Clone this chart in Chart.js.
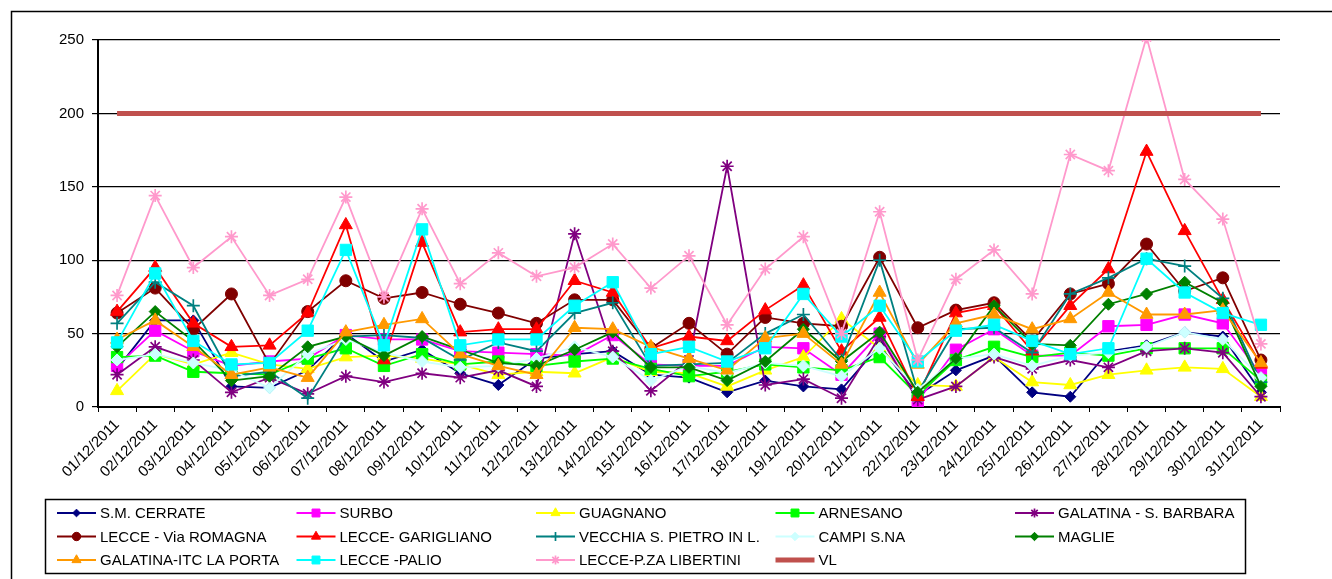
<!DOCTYPE html>
<html>
<head>
<meta charset="utf-8">
<script src="https://cdn.jsdelivr.net/npm/chart.js@4/dist/chart.umd.min.js"></script>
<style>
  html, body { margin: 0; padding: 0; background: #fff; }
  #wrap { position: relative; width: 1332px; height: 579px; }
</style>
</head>
<body>
<div id="wrap"><canvas id="chart"></canvas></div>
<script>
// PM10 daily values, December 2011

const days = [
  '01/12/2011', '02/12/2011', '03/12/2011', '04/12/2011', '05/12/2011', '06/12/2011', '07/12/2011',
  '08/12/2011', '09/12/2011', '10/12/2011', '11/12/2011', '12/12/2011', '13/12/2011', '14/12/2011',
  '15/12/2011', '16/12/2011', '17/12/2011', '18/12/2011', '19/12/2011', '20/12/2011', '21/12/2011',
  '22/12/2011', '23/12/2011', '24/12/2011', '25/12/2011', '26/12/2011', '27/12/2011', '28/12/2011',
  '29/12/2011', '30/12/2011', '31/12/2011'
];

const cerrate   = [26, 59, 59, 14, 13, 25, 50, 31, 39, 23, 15, 33, 36, 38, 22, 20, 10, 18, 14, 12, 42, 8, 25, 35, 10, 7, 38, 42, 51, 48, 10];
const surbo     = [28, 52, 38, 28, 31, 33, 49, 46, 46, 38, 37, 36, 35, 49, 29, 28, 28, 41, 40, 22, 50, 4, 39, 53, 35, 35, 55, 56, 63, 57, 22];
const guagnano  = [11, 36, 29, 37, 29, 26, 34, 35, 33, 29, 22, 24, 23, 34, 24, 23, 14, 25, 34, 60, 40, 15, 14, 34, 17, 15, 22, 25, 27, 26, 7];
const arnesano  = [34, 35, 24, 23, 22, 33, 40, 28, 36, 29, 31, 28, 31, 33, 26, 21, 24, 29, 27, 25, 34, 8, 32, 41, 34, 37, 35, 40, 40, 40, 18];
const sBarbara  = [22, 41, 32, 10, 20, 9, 21, 17, 23, 20, 25, 14, 118, 38, 11, 32, 164, 15, 19, 6, 48, 5, 14, 34, 26, 32, 27, 38, 40, 37, 7];
const romagna   = [64, 81, 53, 77, 29, 65, 86, 74, 78, 70, 64, 57, 73, 73, 40, 57, 36, 61, 57, 55, 102, 54, 66, 71, 45, 77, 84, 111, 79, 88, 32];
const garigliano = [65, 95, 57, 41, 42, 64, 124, 32, 112, 51, 53, 53, 86, 78, 40, 48, 45, 66, 83, 38, 61, 7, 64, 69, 38, 69, 94, 174, 120, 73, 29];
const vecchia   = [57, 85, 69, 21, 24, 6, 48, 49, 47, 32, 44, 38, 64, 71, 28, 29, 30, 50, 63, 32, 100, 10, 53, 54, 37, 77, 88, 101, 96, 74, 17];
const campi     = [32, 36, 30, 25, 13, 36, 46, 37, 31, 27, 28, 33, 41, 34, 18, 28, 23, 30, 28, 21, 40, 12, 33, 36, 28, 35, 37, 41, 51, 46, 20];
const maglie    = [41, 65, 45, 18, 21, 41, 48, 35, 48, 39, 30, 28, 39, 51, 27, 27, 18, 31, 53, 31, 51, 10, 33, 69, 43, 42, 70, 77, 85, 71, 14];
const laPorta   = [46, 59, 41, 22, 27, 20, 51, 56, 60, 36, 28, 22, 54, 53, 41, 33, 25, 47, 50, 29, 78, 29, 57, 63, 53, 60, 78, 63, 63, 66, 30];
const palio     = [44, 91, 45, 29, 30, 52, 107, 42, 121, 42, 46, 46, 69, 85, 36, 41, 31, 40, 77, 48, 69, 31, 52, 56, 45, 36, 40, 101, 78, 64, 56];
const libertini = [76, 144, 95, 116, 76, 87, 143, 75, 135, 84, 105, 89, 95, 111, 81, 103, 56, 94, 116, 50, 133, 32, 87, 107, 77, 172, 161, 252, 155, 128, 43];
const limitVL   = [200, 200, 200, 200, 200, 200, 200, 200, 200, 200, 200, 200, 200, 200, 200, 200, 200, 200, 200, 200, 200, 200, 200, 200, 200, 200, 200, 200, 200, 200, 200];

const FONT = '"Liberation Sans", Arial, sans-serif';

function series(label, values, color, style, radius, fill) {
  return {
    label: label,
    data: values,
    borderColor: color,
    backgroundColor: color,
    borderWidth: 1.8,
    pointStyle: style,
    pointRadius: radius,
    pointHoverRadius: radius,
    pointBackgroundColor: fill === false ? 'transparent' : color,
    pointBorderColor: color,
    pointBorderWidth: (style === 'star' || style === 'cross') ? 1.7 : 1,
    tension: 0
  };
}

const datasets = [
  series('S.M. CERRATE', cerrate, '#000080', 'rectRot', 5.5),
  series('SURBO', surbo, '#ff00ff', 'rect', 8),
  series('GUAGNANO', guagnano, '#ffff00', 'triangle', 7.5),
  series('ARNESANO', arnesano, '#00ff00', 'rect', 8),
  series('GALATINA - S. BARBARA', sBarbara, '#800080', 'star', 6.5, false),
  series('LECCE - Via ROMAGNA', romagna, '#800000', 'circle', 6),
  series('LECCE- GARIGLIANO', garigliano, '#ff0000', 'triangle', 7.5),
  series('VECCHIA S. PIETRO IN L.', vecchia, '#008080', 'cross', 6.5, false),
  series('CAMPI S.NA', campi, '#ccffff', 'rectRot', 6),
  series('MAGLIE', maglie, '#008000', 'rectRot', 6),
  series('GALATINA-ITC LA PORTA', laPorta, '#ff9900', 'triangle', 7.5),
  series('LECCE -PALIO', palio, '#00ffff', 'rect', 8),
  series('LECCE-P.ZA LIBERTINI', libertini, '#ff99cc', 'star', 6.5, false),
  {
    label: 'VL', data: limitVL, borderColor: '#c0504d', backgroundColor: '#c0504d',
    borderWidth: 5, pointRadius: 0, pointStyle: 'line', tension: 0
  }
];
// later series drawn on top, like the spreadsheet
datasets.forEach((ds, i) => { ds.order = datasets.length - i; });

// frame round the whole chart + legend grid at the bottom
const framePlugin = {
  id: 'frameAndLegend',
  beforeDraw(chart) {
    const ctx = chart.ctx;
    ctx.save();
    ctx.fillStyle = '#fff';
    ctx.fillRect(0, 0, chart.width, chart.height);
    ctx.restore();
  },
  afterDraw(chart) {
    const ctx = chart.ctx;
    ctx.save();
    ctx.strokeStyle = '#000';
    ctx.lineWidth = 1.5;
    ctx.strokeRect(11.5, 11.5, 1400, 700);
    ctx.strokeRect(45.5, 499.5, 1200, 74);

    ctx.font = '15px ' + FONT;
    ctx.textBaseline = 'middle';
    ctx.textAlign = 'left';
    chart.data.datasets.forEach((ds, i) => {
      const col = i % 5;
      const row = Math.floor(i / 5);
      const x = 57 + col * 239.5;
      const y = 513 + row * 23.5;
      ctx.strokeStyle = ds.borderColor;
      ctx.lineWidth = ds.label === 'VL' ? 5 : 1.8;
      ctx.beginPath();
      ctx.moveTo(x, y);
      ctx.lineTo(x + 39, y);
      ctx.stroke();
      if (ds.pointRadius > 0) {
        ctx.fillStyle = ds.pointBackgroundColor;
        ctx.strokeStyle = ds.pointBorderColor;
        ctx.lineWidth = ds.pointBorderWidth;
        Chart.helpers.drawPoint(ctx, {
          pointStyle: ds.pointStyle,
          radius: ds.pointRadius * 0.7,
          rotation: 0,
          borderWidth: ds.pointBorderWidth
        }, x + 19.5, y);
      }
      ctx.fillStyle = '#000';
      ctx.fillText(ds.label, x + 43, y + 1);
    });
    ctx.restore();
  }
};

new Chart(document.getElementById('chart'), {
  type: 'line',
  data: { labels: days, datasets: datasets },
  plugins: [framePlugin],
  options: {
    animation: false,
    responsive: true,
    maintainAspectRatio: false,
    layout: { padding: { top: 40, right: 52, left: 0, bottom: 0 } },
    plugins: { legend: { display: false }, tooltip: { enabled: false } },
    scales: {
      x: {
        offset: true,
        afterFit: (scale) => { scale.height = 172; },
        grid: { offset: true, drawOnChartArea: false, drawTicks: true, tickLength: 5, color: '#000', lineWidth: 1 },
        border: { color: '#000', width: 2 },
        ticks: {
          autoSkip: false, minRotation: 45, maxRotation: 45, padding: 4,
          color: '#000', font: { family: FONT, size: 15 }
        }
      },
      y: {
        min: 0, max: 250,
        afterFit: (scale) => { scale.width = 98; },
        grid: { color: '#000', lineWidth: 1.2, tickLength: 6 },
        border: { color: '#000', width: 2 },
        ticks: { stepSize: 50, padding: 8, color: '#000', font: { family: FONT, size: 15 } }
      }
    }
  }
});
</script>
</body>
</html>
